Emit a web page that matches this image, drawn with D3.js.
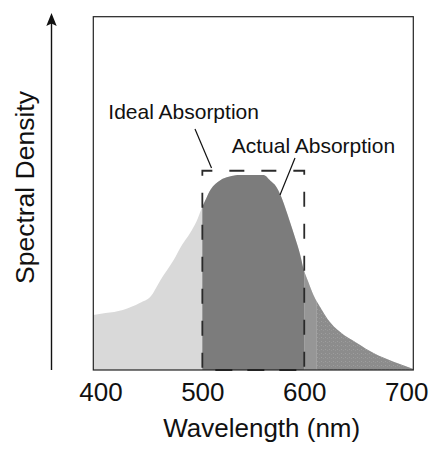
<!DOCTYPE html>
<html>
<head>
<meta charset="utf-8">
<script src="https://cdn.jsdelivr.net/npm/d3@7"></script>
<style>
  html, body { margin: 0; padding: 0; background: #fff; }
  svg { display: block; }
  text { font-family: "Liberation Sans", Arial, Helvetica, sans-serif; fill: #111; }
</style>
</head>
<body>
<svg id="chart" width="435" height="450"></svg>
<script>
// ---- data ----
const wavelengths = [393, 405, 422, 439, 449, 459, 472, 480, 488, 494, 500, 504, 508, 513, 518, 526, 537, 560, 567, 572, 577, 581, 586, 591, 596, 599, 604, 609, 616, 623, 635, 652, 668, 687, 699, 707];
const densities   = [15.6, 16.1, 17.0, 19.0, 20.7, 25.5, 31.2, 35.4, 38.8, 41.9, 46.2, 48.7, 51.0, 52.7, 53.8, 54.7, 55.2, 55.2, 53.5, 52.1, 49.3, 46.2, 41.9, 37.4, 32.6, 28.9, 24.9, 21.2, 17.6, 14.4, 10.8, 7.6, 4.8, 2.4, 1.1, 0.3];
const xTicks = [400, 500, 600, 700];
const idealBand = [500, 600];       // ideal absorption (nm)
const idealLevel = [56.4];          // top of ideal block
const bandEdges = [600, 612];       // lighter strip next to the ideal band
const xDomain = [393, 707];
const yDomain = [0, 100];
const labels = ["Ideal Absorption", "Actual Absorption"];
const xTitle = "Wavelength (nm)";
const yTitle = "Spectral Density";

// ---- layout ----
const svg = d3.select("#chart");
const pLeft = 93.3, pRight = 413.3, pTop = 16.7, pBottom = 370;
const x = d3.scaleLinear().domain(xDomain).range([pLeft, pRight]);
const y = d3.scaleLinear().domain(yDomain).range([pBottom, pTop]);
const pts = wavelengths.map((w, i) => [w, densities[i]]);

const area = d3.area()
  .x(d => x(d[0]))
  .y0(y(0))
  .y1(d => y(d[1]))
  .curve(d3.curveMonotoneX);

const defs = svg.append("defs");
function clip(id, a, b) {
  defs.append("clipPath").attr("id", id)
    .append("rect")
    .attr("x", x(a)).attr("y", pTop)
    .attr("width", x(b) - x(a)).attr("height", pBottom - pTop);
}
clip("cDark", idealBand[0], idealBand[1]);
clip("cBand", bandEdges[0], bandEdges[1]);
clip("cRight", bandEdges[1], xDomain[1]);

// light full curve
svg.append("path").datum(pts).attr("d", area).attr("fill", "#d9d9d9");
// dark ideal-band portion
svg.append("path").datum(pts).attr("d", area).attr("fill", "#7c7c7c").attr("clip-path", "url(#cDark)");
// lighter strip
svg.append("path").datum(pts).attr("d", area).attr("fill", "#969696").attr("clip-path", "url(#cBand)");
// stippled right tail
const pat = defs.append("pattern").attr("id", "stip").attr("patternUnits", "userSpaceOnUse")
  .attr("width", 4).attr("height", 4);
pat.append("rect").attr("width", 4).attr("height", 4).attr("fill", "#8c8c8c");
pat.append("rect").attr("x", 1).attr("y", 1).attr("width", 1).attr("height", 1).attr("fill", "#9e9e9e");
pat.append("rect").attr("x", 3).attr("y", 2).attr("width", 1).attr("height", 1).attr("fill", "#979797");
svg.append("path").datum(pts).attr("d", area).attr("fill", "url(#stip)").attr("clip-path", "url(#cRight)");

// frame
svg.append("rect")
  .attr("x", pLeft).attr("y", pTop)
  .attr("width", pRight - pLeft).attr("height", pBottom - pTop)
  .attr("fill", "none").attr("stroke", "#222").attr("stroke-width", 1.2);

// ideal absorption dashed box
const bx0 = x(idealBand[0]), bx1 = x(idealBand[1]), by = y(idealLevel[0]);
svg.append("path")
  .attr("d", `M${bx0},${pBottom}V${by}H${bx1}V${pBottom}`)
  .attr("fill", "none").attr("stroke", "#2a2a2a").attr("stroke-width", 1.8)
  .attr("stroke-dasharray", "15,17")
  .attr("stroke-dashoffset", -((pBottom - by - 5) % 32));
svg.append("line")
  .attr("x1", bx0).attr("x2", bx1).attr("y1", pBottom).attr("y2", pBottom)
  .attr("stroke", "#222").attr("stroke-width", 2.2)
  .attr("stroke-dasharray", "17,15").attr("stroke-dashoffset", -13);

// y axis arrow
svg.append("line")
  .attr("x1", 51.5).attr("x2", 51.5).attr("y1", pBottom).attr("y2", 22)
  .attr("stroke", "#111").attr("stroke-width", 1.4);
svg.append("path")
  .attr("d", "M51.5,13 L46.3,26 L51.5,23.5 L56.7,26 Z")
  .attr("fill", "#111");

// x axis tick labels
const xAxis = d3.axisBottom(x).tickValues(xTicks).tickSize(0).tickPadding(13)
  .tickFormat(d3.format("d"));
const gx = svg.append("g").attr("transform", `translate(0,${pBottom})`).call(xAxis);
gx.select(".domain").remove();
gx.selectAll("text").attr("font-size", 26).attr("fill", "#111")
  .style("font-family", "'Liberation Sans', Arial, sans-serif");

// titles
svg.append("text").attr("x", 261.7).attr("y", 437).attr("text-anchor", "middle")
  .attr("font-size", 26).text(xTitle);
svg.append("text").attr("transform", "translate(33.5,187.5) rotate(-90)")
  .attr("text-anchor", "middle").attr("font-size", 26.5).text(yTitle);

// annotations
svg.append("text").attr("x", 108.3).attr("y", 118.5).attr("font-size", 21).text(labels[0]);
svg.append("text").attr("x", 231.7).attr("y", 153.3).attr("font-size", 21).text(labels[1]);
svg.append("line").attr("x1", 195).attr("y1", 129).attr("x2", 211.5).attr("y2", 168)
  .attr("stroke", "#111").attr("stroke-width", 1.2);
svg.append("line").attr("x1", 295).attr("y1", 158).attr("x2", 280).attr("y2", 195)
  .attr("stroke", "#111").attr("stroke-width", 1.2);
</script>
</body>
</html>
